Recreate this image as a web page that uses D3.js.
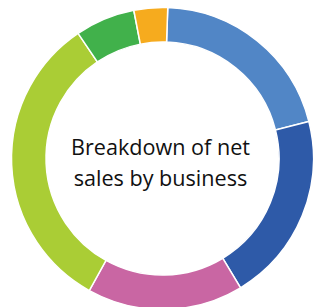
<!DOCTYPE html>
<html>
<head>
<meta charset="utf-8">
<script src="https://cdn.jsdelivr.net/npm/d3@7"></script>
<style>
  html, body { margin: 0; padding: 0; background: #fff; }
  svg { display: block; }
</style>
</head>
<body>
<svg></svg>
<script>
var segments = ["Business A", "Business B", "Business C", "Business D", "Business E", "Business F"];
var shares   = [20.5, 20.3, 16.7, 32.5, 6.4, 3.6];
var colours  = ["#5186c6", "#2e5aa8", "#c966a3", "#aacd35", "#41b14b", "#f6ab1e"];
var titleLines = ["Breakdown of net", "sales by business"];

var w = 314, h = 307;
var cx = 162.5, cy = 158.5;
var outerR = 151, innerR = 116.5;

var svg = d3.select("svg")
  .attr("width", w)
  .attr("height", h);

var colour = d3.scaleOrdinal().domain(segments).range(colours);

var offset = 2 * Math.PI / 180;  // ring starts a touch past 12 o'clock
var pie = d3.pie()
  .sort(null)
  .value(function(d) { return d.v; })
  .startAngle(offset)
  .endAngle(offset + 2 * Math.PI);

var arc = d3.arc()
  .innerRadius(innerR)
  .outerRadius(outerR);

var data = segments.map(function(s, i) { return {name: s, v: shares[i]}; });

var g = svg.append("g")
  .attr("transform", "translate(" + cx + "," + cy + ")");

g.selectAll("path")
  .data(pie(data))
  .enter()
  .append("path")
  .attr("d", arc)
  .attr("fill", function(d) { return colour(d.data.name); })
  .attr("stroke", "#fff")
  .attr("stroke-width", 1.5);

g.selectAll("text")
  .data(titleLines)
  .enter()
  .append("text")
  .attr("x", -2)
  .attr("y", function(d, i) { return -4 + i * 31; })
  .attr("text-anchor", "middle")
  .attr("font-family", "'Open Sans', sans-serif")
  .attr("font-size", 21.6)
  .attr("fill", "#111")
  .text(function(d) { return d; });
</script>
</body>
</html>
